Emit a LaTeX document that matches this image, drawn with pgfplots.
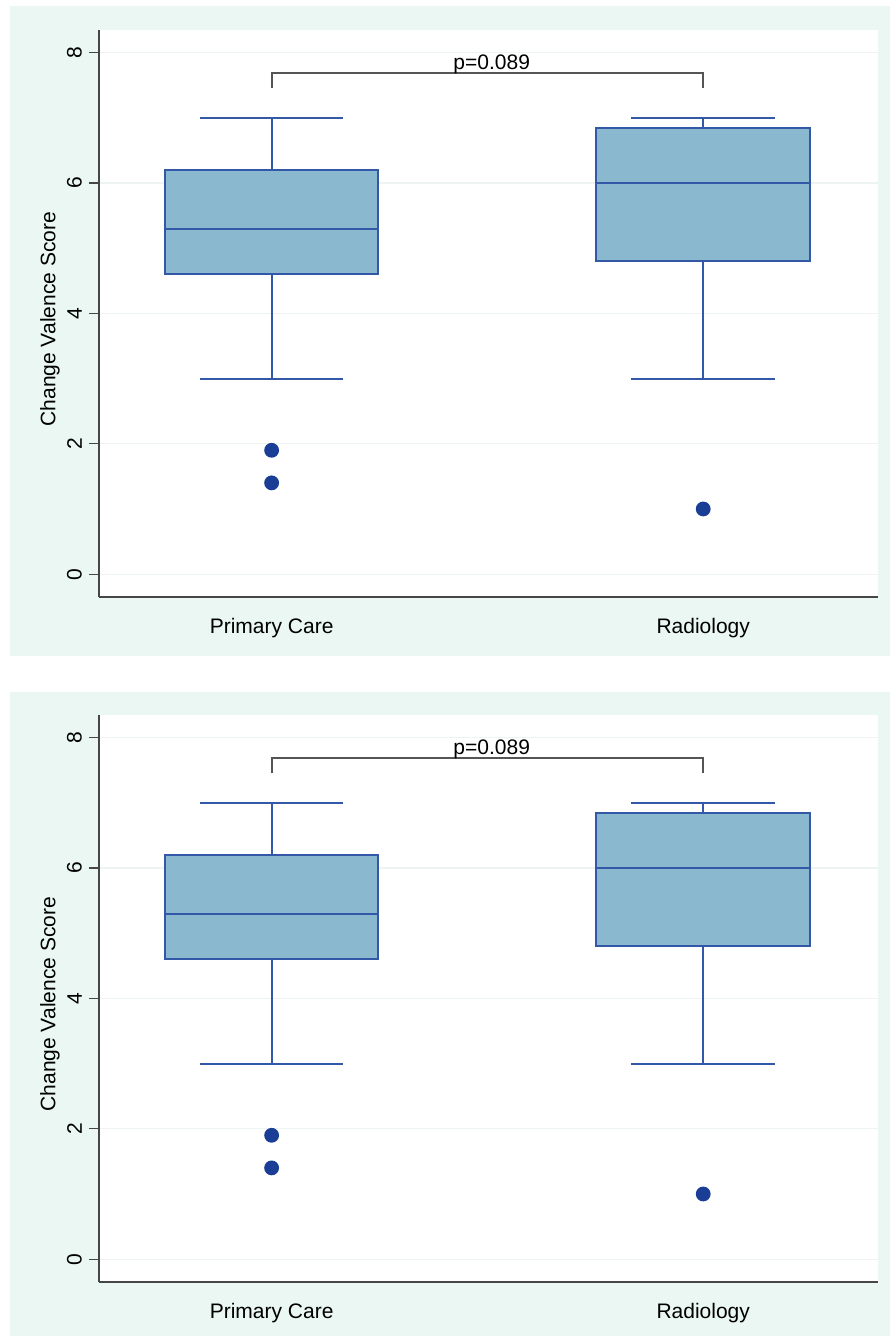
\documentclass[border=0pt]{standalone}
\usepackage{fontspec}
\setmainfont{Liberation Sans}
\usepackage{pgfplots}
\pgfplotsset{compat=1.18}
\usepgfplotslibrary{statistics}
\definecolor{mint}{RGB}{234,247,242}
\definecolor{boxfill}{RGB}{138,184,206}
\definecolor{boxline}{RGB}{52,88,168}
\definecolor{dotcol}{RGB}{26,62,150}
\definecolor{gridc}{RGB}{238,243,243}
\definecolor{axc}{RGB}{70,70,70}
\definecolor{brc}{RGB}{85,85,85}
\newcommand{\fs}{\fontsize{10.5}{12.6}\selectfont}
\pgfplotsset{
  stbox/.style={
    scale only axis, width=389.5pt, height=283.5pt,
    xmin=-0.40, xmax=1.405, ymin=-0.35, ymax=8.345,
    axis lines*=left,
    axis line style={-, draw=axc, line width=0.8pt},
    axis background/.style={fill=white},
    xtick={0,1}, xticklabels={Primary Care, Radiology},
    xtick style={draw=none},
    ytick={0,2,4,6,8},
    ytick style={draw=axc, line width=0.6pt},
    tick align=outside, major tick length=5pt,
    ymajorgrids, grid style={draw=gridc, line width=0.6pt},
    /pgf/number format/assume math mode=true,
    yticklabel style={rotate=90, anchor=south, font=\fs},
    xticklabel style={font=\fs, yshift=-2pt},
    ylabel={Change Valence Score},
    every axis y label/.style={at={(axis description cs:-0.0629,0.49)}, anchor=center, rotate=90, font=\fs},
    boxplot/draw direction=y,
    clip=false,
  },
  bx/.style={solid, draw=boxline, line width=1pt, fill=boxfill,
    mark=*, mark size=3.2pt, mark options={draw=dotcol, fill=dotcol},
    boxplot/box extend=0.495, boxplot/whisker extend=0.333},
}
\newcommand{\panel}{%
    \addplot+[bx, boxplot prepared={median=5.3, upper quartile=6.2, lower quartile=4.6, upper whisker=7, lower whisker=3, draw position=0}]
      coordinates {(0,1.9) (0,1.4)};
    \addplot+[bx, boxplot prepared={median=6.0, upper quartile=6.84, lower quartile=4.8, upper whisker=7, lower whisker=3, draw position=1}]
      coordinates {(1,1.0)};
    \addplot[draw=brc, line width=1pt, mark=none] coordinates {(0,7.45) (0,7.68) (1,7.68) (1,7.45)};
    \node[font=\fs, anchor=base, inner sep=0pt] at (axis cs:0.51,7.74) {p=0.089};
}
\begin{document}
\begin{tikzpicture}
\path[use as bounding box] (0,0) rectangle (445pt,-668pt);
\fill[mint] (5pt,-3pt) rectangle (445pt,-328pt);
\fill[mint] (5pt,-346pt) rectangle (445pt,-668pt);
\begin{axis}[stbox, at={(49.5pt,-15pt)}, anchor=north west]
\panel
\end{axis}
\begin{axis}[stbox, at={(49.5pt,-357.5pt)}, anchor=north west]
\panel
\end{axis}
\end{tikzpicture}
\end{document}
